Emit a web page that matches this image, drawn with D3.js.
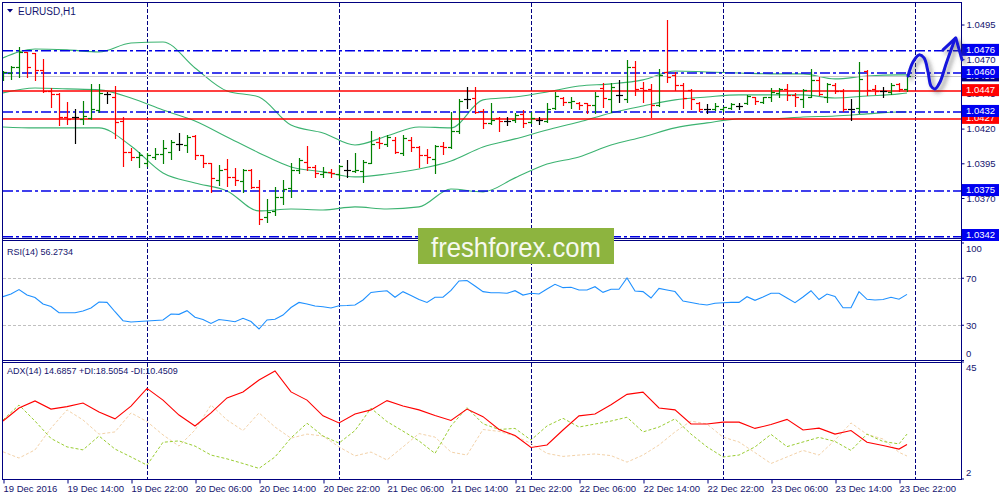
<!DOCTYPE html>
<html><head><meta charset="utf-8">
<script src="https://cdn.jsdelivr.net/npm/d3@7/dist/d3.min.js"></script>
<style>
html,body{margin:0;padding:0;background:#fff;}
svg{display:block;}
text{font-family:"Liberation Sans",Arial,sans-serif;}
</style></head>
<body><svg id="chart" width="1000" height="500"></svg>
<script>
// ---------------- DATA ----------------
const symbolLabel = "EURUSD,H1";
const rsiLabel = "RSI(14) 56.2734";
const adxLabel = "ADX(14) 14.6857 +DI:18.5054 -DI:10.4509";
const watermark = "freshforex.com";

const timeLabels = ["19 Dec 2016","19 Dec 14:00","19 Dec 22:00","20 Dec 06:00","20 Dec 14:00","20 Dec 22:00","21 Dec 06:00","21 Dec 14:00","21 Dec 22:00","22 Dec 06:00","22 Dec 14:00","22 Dec 22:00","23 Dec 06:00","23 Dec 14:00","23 Dec 22:00"];
const timeLabelIdx = [0,8,16,24,32,40,48,56,64,72,80,88,96,104,112];
const daySeparatorIdx = [18,42,66,90,114];

const priceTicks = [1.0495,1.0470,1.0445,1.0420,1.0395,1.0370,1.0345];
const blueLevels = [1.0476,1.0460,1.0432,1.0375,1.0342];
const redLevels = [1.0447,1.0427];
const bidPrice = 1.04576;

const open = [1.04565,1.04603,1.04646,1.04752,1.04743,1.04623,1.04468,1.04446,1.04282,1.04282,
1.04270,1.04275,1.04334,1.04448,1.04426,1.04255,1.04034,1.03994,1.03950,1.03998,
1.04015,1.04034,1.04087,1.04082,1.04149,1.04010,1.03950,1.03830,1.03907,1.03850,
1.03825,1.03902,1.03778,1.03564,1.03607,1.03708,1.03770,1.03902,1.03962,1.03926,
1.03873,1.03890,1.03873,1.03902,1.03897,1.03897,1.03955,1.04106,1.04090,1.04118,
1.04023,1.04118,1.04066,1.04010,1.03979,1.04075,1.04066,1.04185,1.04412,1.04419,
1.04329,1.04239,1.04275,1.04257,1.04262,1.04306,1.04250,1.04262,1.04255,1.04347,
1.04419,1.04394,1.04387,1.04383,1.04371,1.04491,1.04412,1.04443,1.04412,1.04646,
1.04491,1.04484,1.04371,1.04610,1.04587,1.04515,1.04479,1.04383,1.04340,1.04340,
1.04340,1.04347,1.04363,1.04383,1.04426,1.04394,1.04426,1.04455,1.04484,1.04443,
1.04412,1.04430,1.04551,1.04430,1.04515,1.04474,1.04340,1.04347,1.04618,1.04484,
1.04474,1.04466,1.04522,1.04484];
const high = [1.04612,1.04648,1.04791,1.04755,1.04745,1.04700,1.04491,1.04455,1.04394,1.04342,
1.04399,1.04520,1.04520,1.04462,1.04507,1.04282,1.04059,1.04034,1.04023,1.04059,
1.04118,1.04118,1.04171,1.04154,1.04154,1.04010,1.03955,1.03938,1.03979,1.03914,
1.03907,1.03907,1.03830,1.03691,1.03778,1.03830,1.03950,1.03986,1.04075,1.03938,
1.03922,1.03907,1.03938,1.03974,1.04023,1.03974,1.04183,1.04138,1.04154,1.04138,
1.04154,1.04138,1.04075,1.04051,1.04082,1.04106,1.04322,1.04412,1.04498,1.04498,
1.04340,1.04387,1.04286,1.04282,1.04315,1.04334,1.04322,1.04286,1.04383,1.04466,
1.04430,1.04426,1.04394,1.04387,1.04466,1.04527,1.04531,1.04551,1.04695,1.04690,
1.04538,1.04522,1.04628,1.04983,1.04610,1.04527,1.04484,1.04394,1.04378,1.04383,
1.04358,1.04383,1.04387,1.04443,1.04430,1.04430,1.04491,1.04491,1.04522,1.04459,
1.04484,1.04628,1.04570,1.04531,1.04527,1.04484,1.04412,1.04682,1.04623,1.04515,
1.04498,1.04527,1.04531,1.04594];
const low = [1.04547,1.04558,1.04570,1.04572,1.04551,1.04466,1.04358,1.04226,1.04234,1.04099,
1.04231,1.04267,1.04322,1.04383,1.04131,1.03931,1.03974,1.03922,1.03931,1.03979,
1.03950,1.03979,1.04046,1.04034,1.03979,1.03922,1.03746,1.03794,1.03787,1.03794,
1.03746,1.03770,1.03513,1.03530,1.03578,1.03657,1.03710,1.03878,1.03902,1.03850,
1.03850,1.03850,1.03842,1.03854,1.03890,1.03818,1.03950,1.04059,1.04075,1.04023,
1.04010,1.04041,1.03926,1.03950,1.03878,1.04017,1.04059,1.04167,1.04347,1.04311,
1.04203,1.04231,1.04185,1.04226,1.04250,1.04210,1.04239,1.04234,1.04250,1.04340,
1.04371,1.04347,1.04340,1.04311,1.04315,1.04358,1.04322,1.04394,1.04394,1.04443,
1.04394,1.04282,1.04363,1.04538,1.04479,1.04347,1.04340,1.04329,1.04311,1.04334,
1.04329,1.04340,1.04340,1.04378,1.04378,1.04387,1.04402,1.04430,1.04407,1.04363,
1.04354,1.04426,1.04443,1.04394,1.04459,1.04329,1.04262,1.04311,1.04443,1.04450,
1.04426,1.04450,1.04474,1.04474];
const close = [1.04605,1.04646,1.04755,1.04646,1.04623,1.04471,1.04446,1.04282,1.04270,1.04282,
1.04291,1.04342,1.04455,1.04448,1.04250,1.04034,1.03998,1.04010,1.04010,1.04017,
1.04059,1.04106,1.04087,1.04142,1.04010,1.03955,1.03842,1.03902,1.03850,1.03830,
1.03902,1.03778,1.03547,1.03602,1.03708,1.03763,1.03902,1.03974,1.03926,1.03878,
1.03890,1.03878,1.03931,1.03902,1.03902,1.03962,1.04090,1.04099,1.04138,1.04034,
1.04131,1.04066,1.04010,1.03994,1.04075,1.04066,1.04185,1.04402,1.04412,1.04322,
1.04239,1.04262,1.04257,1.04257,1.04298,1.04239,1.04277,1.04262,1.04340,1.04435,
1.04394,1.04402,1.04371,1.04371,1.04435,1.04419,1.04498,1.04443,1.04646,1.04484,
1.04479,1.04371,1.04587,1.04570,1.04515,1.04419,1.04412,1.04340,1.04340,1.04363,
1.04354,1.04378,1.04363,1.04435,1.04402,1.04426,1.04466,1.04484,1.04443,1.04430,
1.04479,1.04551,1.04450,1.04522,1.04474,1.04340,1.04340,1.04556,1.04479,1.04474,
1.04474,1.04515,1.04484,1.04576];

const bbIdx = [0,4,8,12,16,20,24,28,32,36,40,44,48,52,56,60,64,68,72,76,80,84,88,92,96,100,104,108,112,113];
const bbUpper = [1.04709,1.04774,1.04767,1.04752,1.04817,1.04824,1.04637,1.04471,1.04428,1.04226,1.04169,1.04082,1.04147,1.04212,1.04205,1.04407,1.04428,1.04464,1.04507,1.04522,1.04551,1.04615,1.04608,1.04601,1.04594,1.04594,1.04558,1.04579,1.04587,1.04587];
const bbMiddle = [1.04457,1.04493,1.04486,1.04479,1.04421,1.04334,1.04255,1.04140,1.04025,1.03924,1.03888,1.03852,1.03873,1.03909,1.03967,1.04068,1.04126,1.04190,1.04248,1.04313,1.04363,1.04407,1.04428,1.04443,1.04443,1.04443,1.04421,1.04435,1.04450,1.04457];
const bbLower = [1.04212,1.04205,1.04205,1.04205,1.04075,1.03880,1.03808,1.03751,1.03607,1.03621,1.03614,1.03636,1.03621,1.03636,1.03765,1.03744,1.03845,1.03945,1.03996,1.04082,1.04140,1.04205,1.04241,1.04270,1.04270,1.04284,1.04291,1.04306,1.04320,1.04320];

const rsi = [54.3,56.6,60.4,55.7,53.6,48.1,46.0,40.7,40.7,40.7,
42.1,44.7,49.8,49.5,41.5,33.9,32.8,33.2,33.6,34.0,
34.5,39.6,39.3,42.4,36.8,34.9,31.5,34.9,34.0,33.0,
35.9,33.2,26.8,34.5,35.1,38.7,45.1,49.4,48.1,46.4,
45.8,44.7,46.6,46.8,47.2,51.5,57.9,58.7,59.4,53.8,
58.6,55.3,51.9,49.4,53.8,53.8,59.6,67.7,68.1,63.4,
58.6,57.7,57.7,57.2,59.4,55.7,57.2,56.6,60.9,64.9,
62.0,62.3,60.0,60.0,62.8,58.0,60.6,60.6,70.2,59.1,
58.6,53.2,61.3,60.0,58.7,50.6,49.4,48.1,47.2,48.7,
49.2,49.5,49.5,54.3,51.2,54.0,57.2,57.2,53.2,49.2,
54.0,59.4,51.9,56.6,54.5,44.9,44.9,58.6,52.1,51.5,
51.9,53.8,52.1,56.27];
const rsiLevels = [70,30];
const rsiTicks = [100,70,30,0];

const adxIdx = [0,2,4,6,8,10,12,14,16,18,20,22,24,26,28,30,32,34,36,38,40,42,44,46,48,50,52,54,56,58,60,62,64,66,68,70,72,74,76,78,80,82,84,86,88,90,92,94,96,98,100,102,104,106,108,110,112,113];
const adx = [23.3,28.1,30.7,27.7,28.6,29.9,26.6,24.1,28.8,35.3,31.0,25.5,21.5,26.3,31.8,34.0,38.4,41.7,34.0,31.0,25.2,22.6,25.9,27.4,30.8,28.8,27.4,25.3,23.5,27.7,24.9,20.2,18.0,13.6,14.5,20.0,25.2,25.9,29.3,33.1,33.9,28.1,27.4,22.2,22.2,22.9,22.9,20.6,22.0,23.9,20.0,20.7,18.5,19.8,15.5,14.3,13.0,14.69];
const plusDI = [23.7,29.2,23.3,16.9,13.8,12.7,17.8,13.0,10.1,7.1,15.5,16.0,14.1,10.8,9.4,7.7,5.9,10.1,17.1,22.5,17.8,15.2,19.8,28.0,23.1,19.6,16.0,11.4,21.5,28.2,22.3,20.2,20.6,16.3,21.5,24.3,21.1,22.2,23.3,24.7,19.3,21.1,24.1,18.5,13.8,10.1,10.8,13.8,18.4,13.9,15.6,17.3,15.8,12.5,18.5,15.8,14.9,18.51];
const minusDI = [12.0,9.7,12.7,20.7,27.4,23.7,18.5,19.3,26.3,23.1,18.2,14.1,20.0,29.2,23.7,19.8,26.3,21.1,17.0,18.5,17.8,13.8,10.5,11.9,9.0,13.8,18.7,17.4,11.9,10.8,20.2,19.5,17.8,15.1,11.4,10.3,10.8,11.2,10.6,8.2,10.8,14.5,19.3,23.3,22.2,17.4,15.6,11.7,7.7,10.1,12.5,10.8,16.3,22.6,18.4,16.7,11.8,10.45];
const adxTicks = [45,2];

// hand-drawn forecast arrow, in (bar index, price)
const arrowPts = [[113.13,1.04579],[113.75,1.04680],[114.5,1.04731],[115.13,1.04709],[115.63,1.04608],[116.0,1.04507],[116.5,1.04486],[117.13,1.04536],[117.88,1.04666],[118.5,1.04767],[119.0,1.04846]];
const arrowHead = [[117.5,1.04767],[119.1,1.04853],[119.88,1.04695]];

// ---------------- SCALES ----------------
const NAVY = "#000080", TXT = "#14146e";
const svg = d3.select("#chart");
const x  = d3.scaleLinear().domain([0,114]).range([3,915]);
const yP = d3.scaleLinear().domain([1.0345,1.0495]).range([232.7,24.5]);
const yR = d3.scaleLinear().domain([0,100]).range([360.5,243]);
const yA = d3.scaleLinear().domain([2,45]).range([479,362]);
const AXX = 961;

const defs = svg.append("defs");
defs.append("clipPath").attr("id","cpMain").append("rect").attr("x",3).attr("y",3).attr("width",958).attr("height",235);
defs.append("clipPath").attr("id","cpRsi").append("rect").attr("x",3).attr("y",241).attr("width",958).attr("height",119);
defs.append("clipPath").attr("id","cpAdx").append("rect").attr("x",3).attr("y",363).attr("width",958).attr("height",116);
const f = defs.append("filter").attr("id","shadow").attr("x","-30%").attr("y","-30%").attr("width","160%").attr("height","160%");
f.append("feDropShadow").attr("dx",3).attr("dy",3).attr("stdDeviation",2).attr("flood-color","#444").attr("flood-opacity",0.55);

// ---------------- DAY SEPARATORS ----------------
svg.append("g").selectAll("line").data(daySeparatorIdx).join("line")
  .attr("x1",d=>x(d)+0.5).attr("x2",d=>x(d)+0.5).attr("y1",3).attr("y2",479)
  .attr("stroke",NAVY).attr("stroke-width",1).attr("stroke-dasharray","4,2");

// ---------------- MAIN PANEL ----------------
const gMain = svg.append("g").attr("clip-path","url(#cpMain)");
const bbLine = arr => d3.line().x((d,k)=>x(bbIdx[k])).y(d=>yP(d)).curve(d3.curveMonotoneX)(arr);
[bbUpper,bbMiddle,bbLower].forEach(a=>{
  gMain.append("path").attr("d",bbLine(a)).attr("fill","none").attr("stroke","#3cb371").attr("stroke-width",1.1);
});
// bid line
gMain.append("line").attr("x1",3).attr("x2",AXX).attr("y1",Math.round(yP(bidPrice))+0.5).attr("y2",Math.round(yP(bidPrice))+0.5)
  .attr("stroke","#c8c8c8").attr("stroke-width",1);
// red levels
gMain.selectAll("line.red").data(redLevels).join("line").attr("class","red")
  .attr("x1",3).attr("x2",AXX).attr("y1",d=>yP(d)).attr("y2",d=>yP(d))
  .attr("stroke","#ff0000").attr("stroke-width",1.5);
// blue levels
gMain.selectAll("line.blue").data(blueLevels).join("line").attr("class","blue")
  .attr("x1",3).attr("x2",AXX).attr("y1",d=>yP(d)).attr("y2",d=>yP(d))
  .attr("stroke","#0000e6").attr("stroke-width",1.5).attr("stroke-dasharray","10,3,3,3");

// bars (OHLC)
const bars = d3.range(open.length).map(i=>({i,o:open[i],h:high[i],l:low[i],c:close[i]}));
const col = d => d.c>d.o ? "#008000" : (d.c<d.o ? "#ff0000" : "#000000");
const py = v => Math.round(yP(v))+0.5;
const gb = gMain.append("g").attr("stroke-width",1.2);
gb.selectAll("line.hl").data(bars).join("line").attr("class","hl")
  .attr("x1",d=>x(d.i)+0.5).attr("x2",d=>x(d.i)+0.5)
  .attr("y1",d=>py(d.h)-0.5).attr("y2",d=>py(d.l)+0.5).attr("stroke",col);
gb.selectAll("line.op").data(bars).join("line").attr("class","op")
  .attr("x1",d=>x(d.i)-3).attr("x2",d=>x(d.i)+0.5)
  .attr("y1",d=>py(d.o)).attr("y2",d=>py(d.o)).attr("stroke",col);
gb.selectAll("line.cl").data(bars).join("line").attr("class","cl")
  .attr("x1",d=>x(d.i)+0.5).attr("x2",d=>x(d.i)+4)
  .attr("y1",d=>py(d.c)).attr("y2",d=>py(d.c)).attr("stroke",col);

// ---------------- RSI PANEL ----------------
const gR = svg.append("g").attr("clip-path","url(#cpRsi)");
gR.selectAll("line.lv").data(rsiLevels).join("line").attr("class","lv")
  .attr("x1",3).attr("x2",AXX).attr("y1",d=>Math.round(yR(d))+0.5).attr("y2",d=>Math.round(yR(d))+0.5)
  .attr("stroke","#c0c0c0").attr("stroke-dasharray","3,2");
gR.append("path").attr("d",d3.line().x((d,i)=>x(i)).y(d=>yR(d))(rsi))
  .attr("fill","none").attr("stroke","#1e90ff").attr("stroke-width",1.1);

// ---------------- ADX PANEL ----------------
const gA = svg.append("g").attr("clip-path","url(#cpAdx)");
const aLine = d3.line().x((d,k)=>x(adxIdx[k])).y(d=>yA(d));
gA.append("path").attr("d",aLine(minusDI)).attr("fill","none").attr("stroke","#f3d2a9").attr("stroke-width",1).attr("stroke-dasharray","3,2");
gA.append("path").attr("d",aLine(plusDI)).attr("fill","none").attr("stroke","#9acd32").attr("stroke-width",1).attr("stroke-dasharray","3,2");
gA.append("path").attr("d",aLine(adx)).attr("fill","none").attr("stroke","#ff0000").attr("stroke-width",1.1);

// ---------------- FRAMES ----------------
const fr = svg.append("g").attr("stroke",NAVY).attr("stroke-width",1).attr("fill","none");
[[2,2.5,AXX,2.5],[2.5,2,2.5,480],[AXX+0.5,2,AXX+0.5,480],
 [2,238.5,AXX,238.5],[2,240.5,AXX,240.5],[2,360.5,AXX,360.5],[2,362.5,AXX,362.5],[2,479.5,AXX+1,479.5]]
 .forEach(s=>fr.append("line").attr("x1",s[0]).attr("y1",s[1]).attr("x2",s[2]).attr("y2",s[3]));

// ---------------- AXES ----------------
const gx = svg.append("g").attr("transform","translate(0,479.5)")
  .call(d3.axisBottom(x).tickValues(timeLabelIdx).tickSize(4).tickFormat((d,k)=>timeLabels[k]));
gx.select(".domain").remove();
gx.selectAll(".tick line").attr("stroke",NAVY).attr("transform","translate(0.5,0)");
gx.selectAll(".tick text").attr("fill",TXT).attr("font-size","9.5px").attr("text-anchor","start")
  .attr("font-family","Liberation Sans, Arial, sans-serif").attr("x",0).attr("y",6).attr("dy","0.71em");

const gy = svg.append("g").attr("transform",`translate(${AXX+0.5},0)`)
  .call(d3.axisRight(yP).tickValues(priceTicks).tickSize(3).tickFormat(d3.format(".4f")));
gy.select(".domain").remove();
gy.selectAll(".tick line").attr("stroke",NAVY);
gy.selectAll(".tick text").attr("fill",TXT).attr("font-size","9.5px").attr("x",5)
  .attr("font-family","Liberation Sans, Arial, sans-serif");

// level label boxes
const boxes = [
  ...redLevels.map(v=>({v,fill:"#ff0000"})),
  {v:bidPrice,fill:"#000080"},
  ...blueLevels.map(v=>({v,fill:"#0000f0"}))
];
const gbx = svg.append("g");
boxes.forEach(b=>{
  let cy = yP(b.v)-1; cy = Math.min(cy,235);
  gbx.append("rect").attr("x",AXX+1).attr("y",cy-6).attr("width",37).attr("height",12).attr("fill",b.fill);
  gbx.append("text").attr("x",AXX+5).attr("y",cy).attr("dy","0.35em").attr("fill","#fff")
    .attr("font-size","9.5px").text(d3.format(".4f")(b.v));
});

// RSI axis labels
const gRy = svg.append("g");
rsiTicks.forEach(v=>{
  const off = v===100 ? 6 : (v===0 ? -7 : 0);
  gRy.append("line").attr("x1",AXX).attr("x2",AXX+3).attr("y1",yR(v)).attr("y2",yR(v)).attr("stroke",NAVY);
  gRy.append("text").attr("x",AXX+5).attr("y",yR(v)+off).attr("dy","0.35em").attr("fill",TXT).attr("font-size","9.5px").text(v);
});
adxTicks.forEach(v=>{
  const off = v===45 ? 6 : -6;
  gRy.append("line").attr("x1",AXX).attr("x2",AXX+3).attr("y1",yA(v)).attr("y2",yA(v)).attr("stroke",NAVY);
  gRy.append("text").attr("x",AXX+5).attr("y",yA(v)+off).attr("dy","0.35em").attr("fill",TXT).attr("font-size","9.5px").text(v);
});

// ---------------- TITLES ----------------
svg.append("path").attr("d","M7,9L13,9L10,12.5Z").attr("fill",NAVY);
svg.append("text").attr("x",18).attr("y",15).attr("fill",TXT).attr("font-size","10px").text(symbolLabel);
svg.append("text").attr("x",7).attr("y",255).attr("fill",TXT).attr("font-size","9px").text(rsiLabel);
svg.append("text").attr("x",7).attr("y",374).attr("fill",TXT).attr("font-size","9px").text(adxLabel);

// ---------------- ARROW ----------------
const ga = svg.append("g").attr("filter","url(#shadow)").attr("fill","none").attr("stroke","#1414dc")
  .attr("stroke-width",3).attr("stroke-linecap","round").attr("stroke-linejoin","round");
ga.append("path").attr("d",d3.line().x(d=>x(d[0])).y(d=>yP(d[1])).curve(d3.curveCatmullRom)(arrowPts));
ga.append("path").attr("d",d3.line().x(d=>x(d[0])).y(d=>yP(d[1]))(arrowHead));

// ---------------- WATERMARK ----------------
const wm = svg.append("g");
wm.append("rect").attr("x",418).attr("y",228).attr("width",196).attr("height",36).attr("fill","#8db43f");
wm.append("text").attr("x",516).attr("y",257).attr("text-anchor","middle").attr("fill","#f6f9ef")
  .attr("font-family","Open Sans, sans-serif").attr("font-size","28px")
  .attr("textLength",170).attr("lengthAdjust","spacingAndGlyphs").text(watermark);
</script>
</body></html>
